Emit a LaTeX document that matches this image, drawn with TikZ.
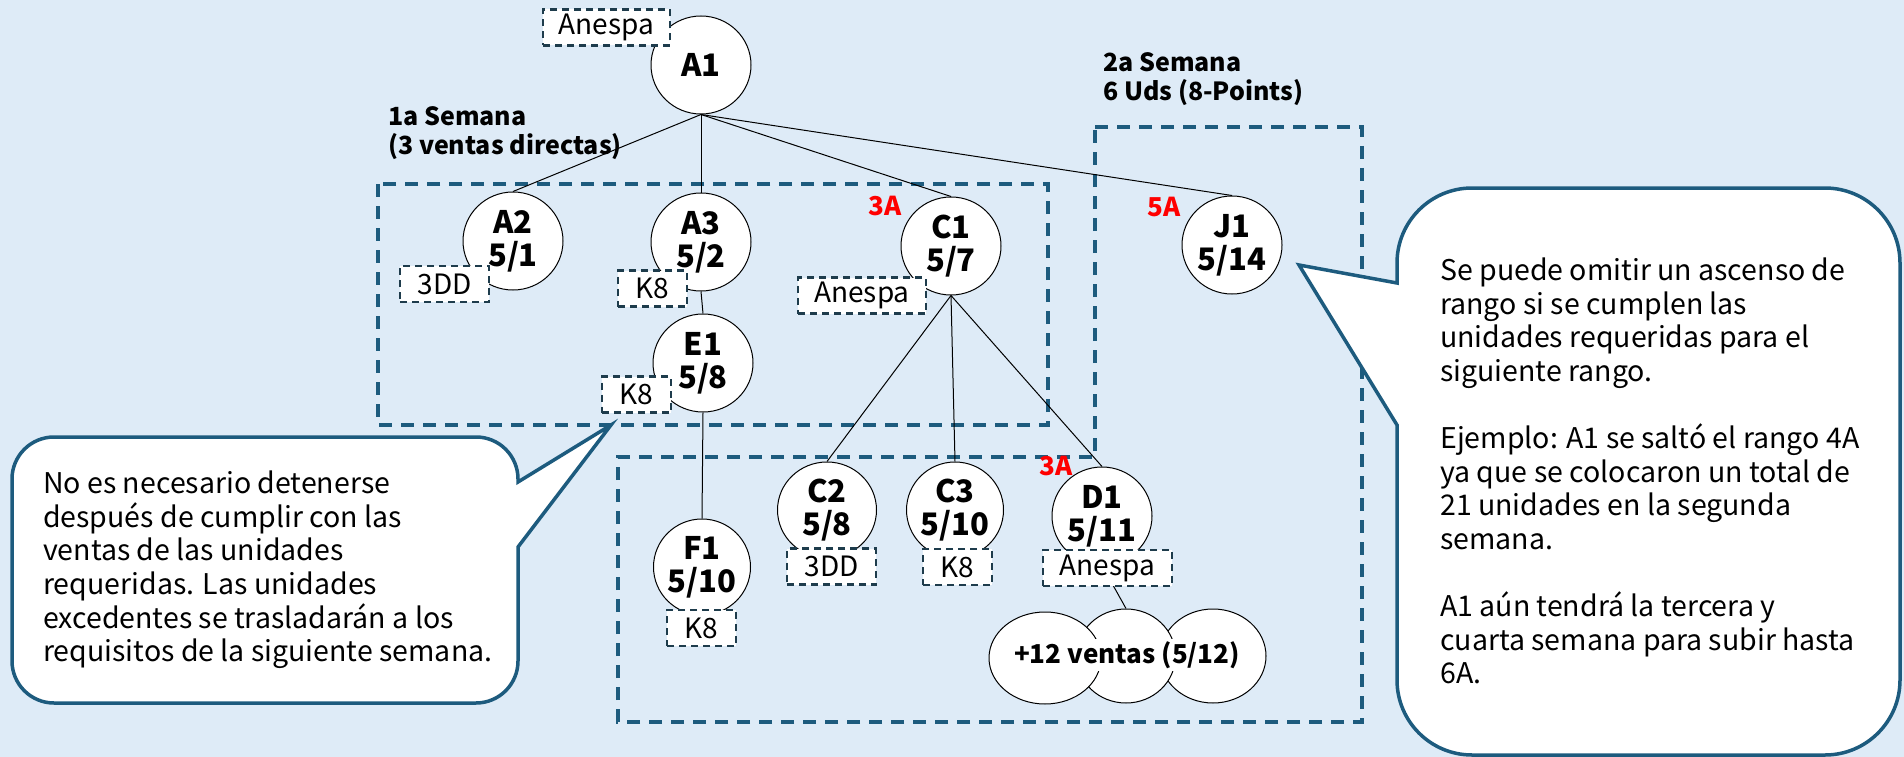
\documentclass[tikz,border=0pt]{standalone}
\usepackage{fontspec}
\setmainfont{Noto Sans CJK JP}
\usetikzlibrary{shapes.geometric}

\definecolor{bg}{HTML}{DEEBF7}
\definecolor{frame}{HTML}{1D5B7E}
\definecolor{tagline}{HTML}{1E3C4C}
\definecolor{rankred}{HTML}{FF0000}

\newcommand\setpx[2]{\fontsize{#1}{#2}\selectfont}

\tikzset{
  member/.style={ellipse, draw=black, line width=1pt, fill=white, inner sep=0pt,
    minimum width=100, minimum height=98, align=center,
    font=\setpx{31}{33}\bfseries},
  tag/.style={draw=tagline, line width=2.5pt, dash pattern=on 7pt off 5pt, fill=white,
    inner sep=0pt, minimum height=36, font=\setpx{28}{30}},
  region/.style={draw=frame, line width=3.5pt, dash pattern=on 13pt off 9pt},
  rank/.style={text=rankred, font=\setpx{26}{28}\bfseries, inner sep=0pt},
  weeklabel/.style={anchor=west, align=left, inner sep=0pt, font=\setpx{25}{29.5}\bfseries},
  link/.style={draw=black, line width=1pt},
  bubble/.style={draw=frame, line width=3.5pt, fill=white, line join=miter},
  bubbletext/.style={anchor=west, align=left, inner sep=0pt, font=\setpx{28.5}{33.6}},
  cloudpart/.style={ellipse, draw=black, line width=1pt, fill=white, inner sep=0pt},
}

\begin{document}
\begin{tikzpicture}[x=1pt, y=-1pt]
  \useasboundingbox (0,0) rectangle (1904,757);
  \fill[bg] (0,0) rectangle (1904,757);

  % dashed week frames
  \draw[region] (378,184) rectangle (1048,425);
  \draw[region] (1095,127) -- (1362,127) -- (1362,722) -- (618,722) -- (618,457) -- (1095,457) -- cycle;

  % week captions
  \node[weeklabel] (w1) at (388,133) {1a Semana\\(3 ventas directas)};
  \node[weeklabel] (w2) at (1103,79) {2a Semana\\6 Uds (8-Points)};

  % members
  \node[member] (A1) at (701,65) {A1};
  \node[member] (A2) at (513,241) {A2\\5/1};
  \node[member] (A3) at (701,242) {A3\\5/2};
  \node[member] (C1) at (951,246) {C1\\5/7};
  \node[member] (J1) at (1232,245) {J1\\5/14};
  \node[member] (E1) at (703,363) {E1\\5/8};
  \node[member, minimum width=97, minimum height=96] (F1) at (702,567) {F1\\5/10};
  \node[member, minimum width=99, minimum height=96] (C2) at (827,510) {C2\\5/8};
  \node[member, minimum width=97, minimum height=96] (C3) at (955,510) {C3\\5/10};
  \node[member] (D1) at (1102,516) {D1\\5/11};

  % group of extra sales
  \node[cloudpart, minimum width=106, minimum height=94] (cr) at (1213,656) {};
  \node[cloudpart, minimum width=99, minimum height=94] (cm) at (1126,656) {};
  \node[cloudpart, minimum width=112, minimum height=92] (cl) at (1045,658) {};
  \node[fill=white, inner sep=1pt, minimum height=32, font=\setpx{26}{28}\bfseries] (extra) at (1127,655) {+12 ventas (5/12)};

  % sponsor lines
  \draw[link] (A1.south) -- (A2.north);
  \draw[link] (A1.south) -- (A3.north);
  \draw[link] (A1.south) -- (C1.north);
  \draw[link] (A1.south) -- (J1.north);
  \draw[link] (A3.south) -- (E1.north);
  \draw[link] (E1.south) -- (F1.north);
  \draw[link] (C1.south) -- (C2.north);
  \draw[link] (C1.south) -- (C3.north);
  \draw[link] (C1.south) -- (D1.north);
  \draw[link] (D1.south) -- (cm.north);

  % product tags
  \node[tag, minimum width=127] (tA1) at (606.5,27.5) {Anespa};
  \node[tag, minimum width=89] (tA2) at (444.5,284) {3DD};
  \node[tag, minimum width=69] (tA3) at (652.5,288.5) {K8};
  \node[tag, minimum width=128] (tC1) at (862,295.5) {Anespa};
  \node[tag, minimum width=69] (tE1) at (636.5,394.5) {K8};
  \node[tag, minimum width=69] (tF1) at (701.5,628) {K8};
  \node[tag, minimum width=89] (tC2) at (831.5,566.5) {3DD};
  \node[tag, minimum width=69] (tC3) at (957.5,567) {K8};
  \node[tag, minimum width=129] (tD1) at (1107.5,568) {Anespa};

  % ranks
  \node[rank] (rC1) at (885,206) {3A};
  \node[rank] (rJ1) at (1164,207) {5A};
  \node[rank] (rD1) at (1056,466) {3A};

  % left speech bubble
  \coordinate (tipL) at (611,425);
  \draw[bubble] (12,479) arc[start angle=180, end angle=270, radius=42]
    -- (476,437) arc[start angle=270, end angle=360, radius=42]
    -- (518,482) -- (tipL) -- (518,547)
    -- (518,661) arc[start angle=0, end angle=90, radius=42]
    -- (54,703) arc[start angle=90, end angle=180, radius=42] -- cycle;
  \node[bubbletext] (noteL) at (43,570) {No es necesario detenerse\\
    después de cumplir con las\\
    ventas de las unidades\\
    requeridas. Las unidades\\
    excedentes se trasladarán a los\\
    requisitos de la siguiente semana.};

  % right speech bubble
  \coordinate (tipR) at (1299,265);
  \draw[bubble] (1397,263) arc[start angle=180, end angle=270, radius=75]
    -- (1825,188) arc[start angle=270, end angle=360, radius=75]
    -- (1900,680) arc[start angle=0, end angle=90, radius=75]
    -- (1472,755) arc[start angle=90, end angle=180, radius=75]
    -- (1397,425) -- (tipR) -- (1397,283) -- cycle;
  \node[bubbletext] (noteR) at (1440,471) {Se puede omitir un ascenso de\\
    rango si se cumplen las\\
    unidades requeridas para el\\
    siguiente rango.\\[33.6pt]
    Ejemplo: A1 se saltó el rango 4A\\
    ya que se colocaron un total de\\
    21 unidades en la segunda\\
    semana.\\[33.6pt]
    A1 aún tendrá la tercera y\\
    cuarta semana para subir hasta\\
    6A.};
\end{tikzpicture}
\end{document}
